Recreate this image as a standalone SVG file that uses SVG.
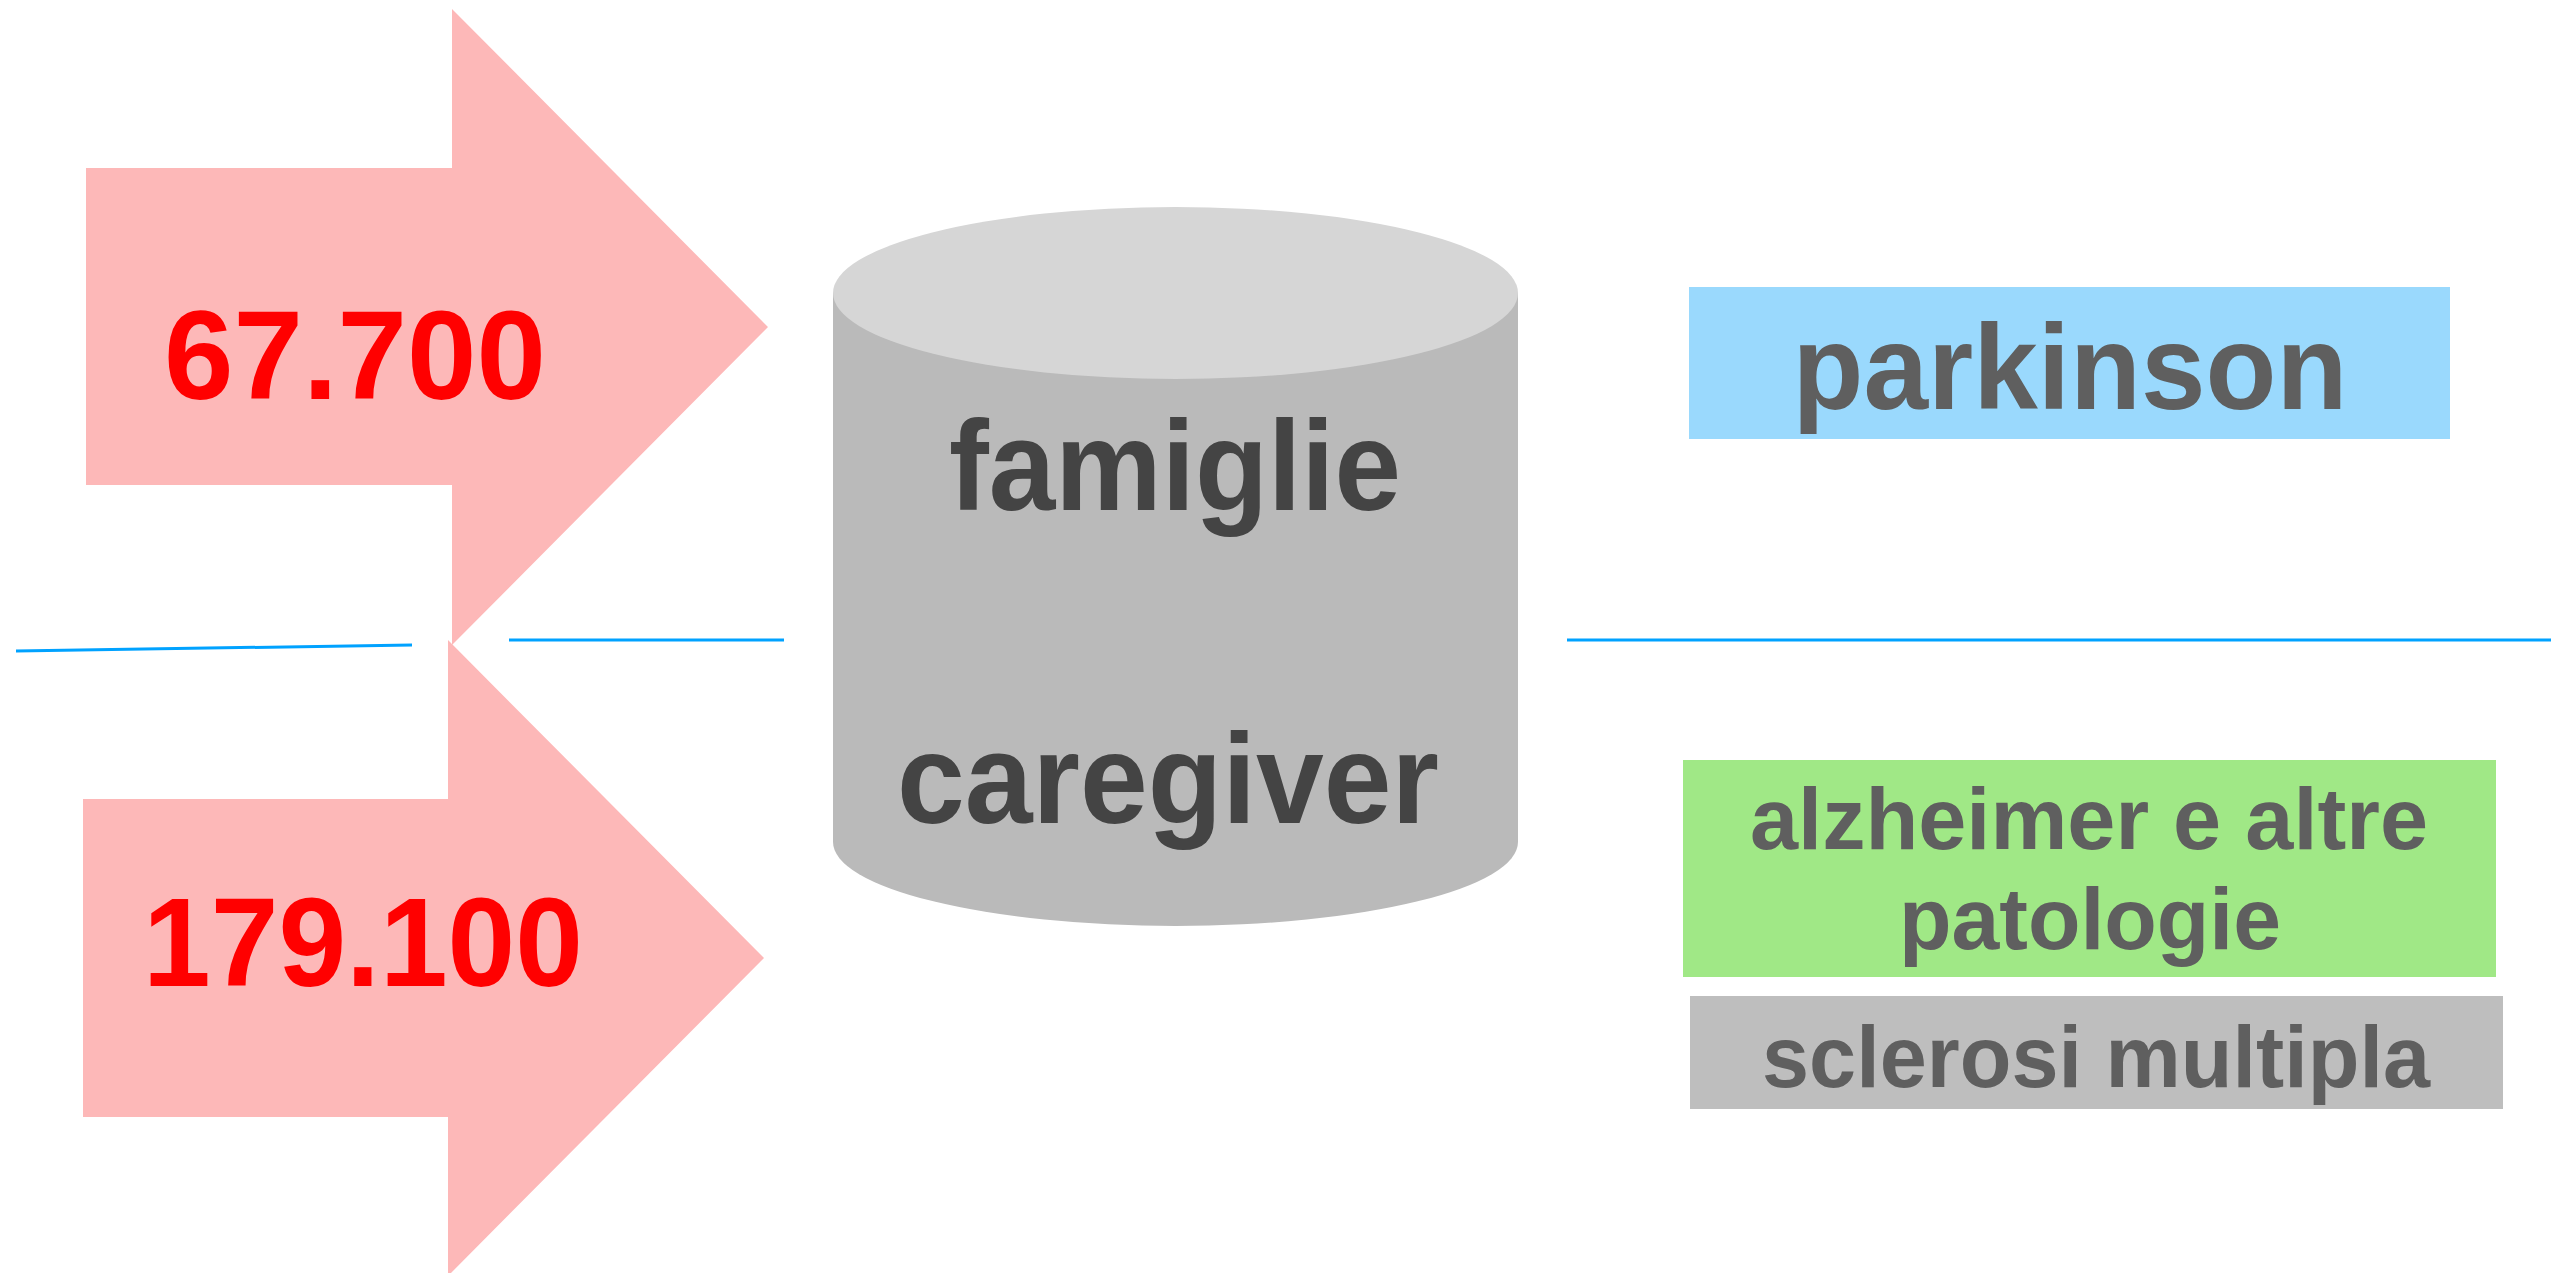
<svg xmlns="http://www.w3.org/2000/svg" width="2551" height="1273" viewBox="0 0 2551 1273">
  <style>
    .arrow { fill: #FDB8B8; }
    .num { font-family: "Comic Sans MS", "Liberation Sans", "DejaVu Sans", sans-serif; font-weight: bold; font-size: 126px; fill: #FF0000; text-anchor: middle; }
    .cyl-text { font-family: "Comic Sans MS", "Liberation Sans", "DejaVu Sans", sans-serif; font-weight: bold; font-size: 128px; fill: #444444; text-anchor: middle; }
    .label { font-family: "Liberation Sans", Arial, Helvetica, sans-serif; font-weight: bold; fill: #5F5F5F; text-anchor: middle; }
    .conn { stroke: #00A2FF; stroke-width: 3; fill: none; stroke-linecap: butt; }
  </style>
  <rect x="0" y="0" width="2551" height="1273" fill="#FFFFFF"/>

  <g id="connectors">
    <line class="conn" x1="16" y1="651" x2="412" y2="645"/>
    <line class="conn" x1="509" y1="640" x2="784" y2="640"/>
    <line class="conn" x1="1567" y1="640" x2="2551" y2="640"/>
  </g>

  <g id="arrow-top">
    <polygon class="arrow" points="86,168 452,168 452,9 768,327 452,645 452,485 86,485"/>
    <text class="num" x="355" y="399" textLength="382" lengthAdjust="spacingAndGlyphs">67.700</text>
  </g>

  <g id="arrow-bottom">
    <polygon class="arrow" points="83,799 448,799 448,640 764,958 448,1276 448,1117 83,1117"/>
    <text class="num" x="363" y="986" textLength="440" lengthAdjust="spacingAndGlyphs">179.100</text>
  </g>

  <g id="cylinder">
    <path d="M833,293 L833,842 A342.5,84 0 0 0 1518,842 L1518,293 Z" fill="#BABABA"/>
    <ellipse cx="1175.5" cy="293" rx="342.5" ry="86" fill="#D6D6D6"/>
    <text class="cyl-text" x="1175" y="510" textLength="452" lengthAdjust="spacingAndGlyphs">famiglie</text>
    <text class="cyl-text" x="1168" y="823" textLength="542" lengthAdjust="spacingAndGlyphs">caregiver</text>
  </g>

  <g id="box-parkinson">
    <rect x="1689" y="287" width="761" height="152" fill="#9AD9FD"/>
    <text class="label" x="2070" y="409" font-size="120" textLength="555" lengthAdjust="spacingAndGlyphs">parkinson</text>
  </g>

  <g id="box-alzheimer">
    <rect x="1683" y="760" width="813" height="217" fill="#A0E886"/>
    <text class="label" x="2089" y="849" font-size="87" textLength="678" lengthAdjust="spacingAndGlyphs">alzheimer e altre</text>
    <text class="label" x="2090" y="949" font-size="87" textLength="382" lengthAdjust="spacingAndGlyphs">patologie</text>
  </g>

  <g id="box-sclerosi">
    <rect x="1690" y="996" width="813" height="113" fill="#BEBEBE"/>
    <text class="label" x="2096" y="1087" font-size="87" textLength="668" lengthAdjust="spacingAndGlyphs">sclerosi multipla</text>
  </g>
</svg>
